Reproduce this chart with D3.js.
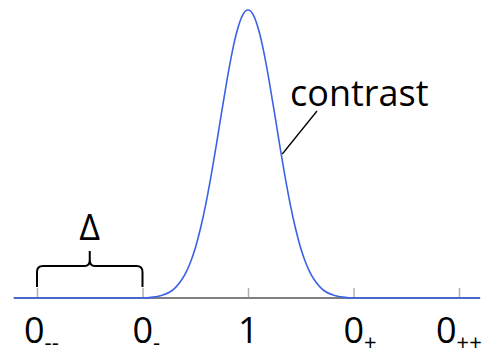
<!DOCTYPE html>
<html>
<head>
<meta charset="utf-8">
<script src="https://cdn.jsdelivr.net/npm/d3@7"></script>
<style>
  body { margin: 0; background: #fff; }
  text { font-family: "Open Sans", sans-serif; fill: #000; }
</style>
</head>
<body>
<svg class="plot" width="489" height="358"></svg>
<script>
// tick positions (in units of the x axis) and their labels
var tickValues = [-2, -1, 0, 1, 2];
var tickMain = ["0", "0", "1", "0", "0"];
var tickSub = ["--", "-", "", "+", "++"];

// contrast curve (x offset, height relative to peak)
var curveX = [-2.22, -1, -0.9, -0.85, -0.8, -0.75, -0.7, -0.65, -0.6, -0.55, -0.5, -0.45, -0.4, -0.35, -0.3, -0.25, -0.2, -0.15, -0.1, -0.05, 0,
              0.05, 0.1, 0.15, 0.2, 0.25, 0.3, 0.35, 0.4, 0.45, 0.5, 0.55, 0.6, 0.65, 0.7, 0.75, 0.8, 0.85, 0.9, 1, 2.2];
var curveY = [0, 0, 0.003, 0.006, 0.011, 0.019, 0.032, 0.052, 0.08, 0.12, 0.173, 0.242, 0.326, 0.424, 0.532, 0.645, 0.755, 0.854, 0.932, 0.983, 1,
              0.983, 0.932, 0.854, 0.755, 0.645, 0.532, 0.424, 0.326, 0.242, 0.173, 0.12, 0.08, 0.052, 0.032, 0.019, 0.011, 0.006, 0.003, 0, 0];

var svg = d3.select(".plot");

var x = d3.scaleLinear().domain([-2, 2]).range([37, 459]),
    y = d3.scaleLinear().domain([0, 1]).range([298, 10]);

var baseY = y(0);

// ticks pointing up
svg.append("g")
    .attr("transform", "translate(0," + baseY + ")")
    .call(d3.axisTop(x).tickValues(tickValues).tickSize(10).tickSizeOuter(0).tickFormat(""))
    .call(function(g) {
      g.select(".domain").remove();
      g.selectAll(".tick line").attr("stroke", "#b0b0b0").attr("stroke-width", 1.5);
    });

// axis line
svg.append("line")
    .attr("x1", x(-2.22))
    .attr("x2", x(2.2))
    .attr("y1", baseY)
    .attr("y2", baseY)
    .attr("stroke", "#7f7f7f")
    .attr("stroke-width", 2);

// the curve
var pts = curveX.map(function(d, i) { return [d, curveY[i]]; });
var line = d3.line()
    .x(function(d) { return x(d[0]); })
    .y(function(d) { return y(d[1]); })
    .curve(d3.curveMonotoneX);

svg.append("path")
    .datum(pts)
    .attr("d", line)
    .attr("fill", "none")
    .attr("stroke", "#3a62e6")
    .attr("stroke-width", 1.6);

// tick labels
var nudge = [-3, 0, 0, 0, -13];
tickValues.forEach(function(v, i) {
  var t = svg.append("text")
      .attr("x", x(v) - 10 + nudge[i])
      .attr("y", 343)
      .style("font-size", "36px");
  t.append("tspan").text(tickMain[i]);
  if (tickSub[i]) {
    t.append("tspan")
        .attr("dy", 7)
        .style("font-size", "22px")
        .text(tickSub[i]);
  }
});

// label and leader line for the curve
svg.append("line")
    .attr("x1", x(0.325))
    .attr("y1", y(0.5))
    .attr("x2", 317)
    .attr("y2", 111)
    .attr("stroke", "#000")
    .attr("stroke-width", 1.3);

svg.append("text")
    .attr("x", 290)
    .attr("y", 106)
    .style("font-size", "36px")
    .text("contrast");

// brace over the gap between 0-- and 0-
var bx0 = x(-2), bx1 = x(-1), bm = (bx0 + bx1) / 2;
var brace = d3.path();
brace.moveTo(bx0, 287);
brace.lineTo(bx0, 272);
brace.quadraticCurveTo(bx0, 266, bx0 + 6, 266);
brace.lineTo(bm - 5, 266);
brace.quadraticCurveTo(bm, 266, bm, 260);
brace.lineTo(bm, 251);
brace.moveTo(bm, 260);
brace.quadraticCurveTo(bm, 266, bm + 5, 266);
brace.lineTo(bx1 - 6, 266);
brace.quadraticCurveTo(bx1, 266, bx1, 272);
brace.lineTo(bx1, 287);

svg.append("path")
    .attr("d", brace.toString())
    .attr("fill", "none")
    .attr("stroke", "#000")
    .attr("stroke-width", 2);

svg.append("text")
    .attr("x", bm)
    .attr("y", 240)
    .attr("text-anchor", "middle")
    .style("font-size", "36px")
    .text("Δ");
</script>
</body>
</html>
